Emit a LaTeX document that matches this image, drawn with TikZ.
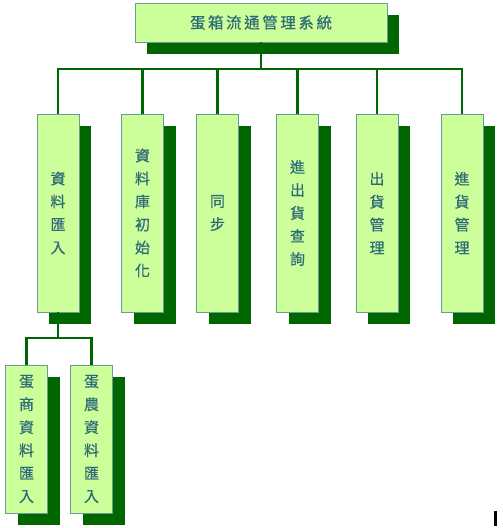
\documentclass[tikz,border=0pt]{standalone}
\usepackage{fontspec}
\newfontfamily\cjk[FakeBold=0.6]{Noto Sans CJK TC}
\usetikzlibrary{shadows}
\definecolor{boxfill}{HTML}{CCFF99}
\definecolor{boxline}{HTML}{6A9A9A}
\definecolor{shade}{HTML}{006600}
\definecolor{txt}{HTML}{2E6B78}
\tikzset{
  box/.style={draw=boxline, line width=0.8pt, fill=boxfill, inner sep=0pt,
    minimum width=42pt, text=txt, align=center,
    font=\cjk\fontsize{15}{23}\selectfont,
    drop shadow={shadow xshift=12pt, shadow yshift=-12pt, fill=shade, opacity=1}},
  lvl/.style={box, minimum height=198pt},
  sub/.style={box, minimum height=148pt},
  conn/.style={draw=shade, line width=2.4pt}
}
\begin{document}
\begin{tikzpicture}[x=1pt,y=-1pt]
\useasboundingbox (0,0) rectangle (503,528);
\node[box, minimum width=252pt, minimum height=39pt, font=\cjk\fontsize{15.5}{18}\selectfont] (root) at (261,22.5) {蛋\,箱\,流\,通\,管\,理\,系\,統};
\node[lvl] (a) at (58,213) {資\\料\\匯\\入};
\node[lvl] (b) at (142.5,213) {資\\料\\庫\\初\\始\\化};
\node[lvl] (c) at (217.5,213) {同\\步};
\node[lvl] (d) at (297.5,213) {進\\出\\貨\\查\\詢};
\node[lvl] (e) at (377,213) {出\\貨\\管\\理};
\node[lvl] (f) at (462,213) {進\\貨\\管\\理};
\node[sub] (a1) at (26.5,439) {蛋\\商\\資\\料\\匯\\入};
\node[sub] (a2) at (91.5,439) {蛋\\農\\資\\料\\匯\\入};
\coordinate (h1) at (261,69);
\coordinate (h2) at (58,338);
\draw[conn] (root.south) -- (h1);
\draw[conn] (a.north) |- (h1) -| (f.north);
\foreach \n in {b,c,d,e} \draw[conn] (\n.north) -- (\n.north |- h1);
\draw[conn] (a.south) -- (h2);
\draw[conn] (a1.north) |- (h2) -| (a2.north);
\fill[black] (494,511) rectangle (496.5,526) coordinate (cur);
\end{tikzpicture}
\end{document}
